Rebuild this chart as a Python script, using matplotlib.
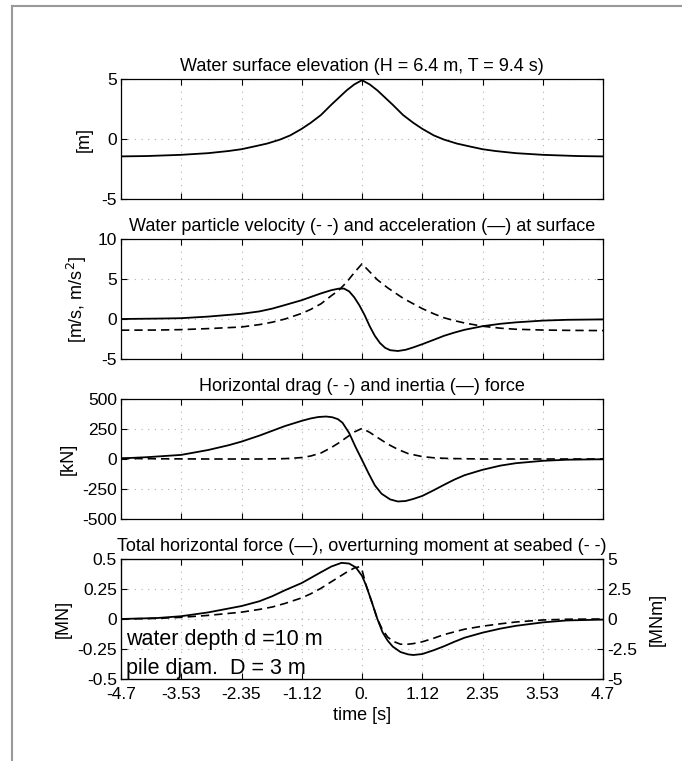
import numpy as np
import matplotlib.pyplot as plt
from matplotlib.lines import Line2D

plt.rcParams['font.family'] = ['Liberation Sans', 'DejaVu Sans']

# time axis ticks (T/8 steps, labels as printed)
xticks = [-4.7, -3.525, -2.35, -1.175, 0.0, 1.175, 2.35, 3.525, 4.7]
xticklabels = ['-4.7', '-3.53', '-2.35', '-1.12', '0.', '1.12', '2.35', '3.53', '4.7']

# surface elevation [m]
t_eta = [-4.7, -4.2, -3.53, -3.0, -2.6, -2.35, -2.1, -1.85, -1.6, -1.4, -1.175, -1.0,
         -0.8, -0.6, -0.45, -0.3, -0.15, 0.0,
         0.15, 0.3, 0.45, 0.6, 0.8, 1.0, 1.175, 1.4, 1.6, 1.85, 2.1, 2.35, 2.6, 3.0,
         3.53, 4.2, 4.7]
eta = [-1.45, -1.42, -1.32, -1.18, -1.0, -0.85, -0.62, -0.38, -0.05, 0.3, 0.85, 1.35,
       2.0, 2.85, 3.45, 4.05, 4.55, 4.9,
       4.55, 4.05, 3.45, 2.85, 2.0, 1.35, 0.85, 0.3, -0.05, -0.38, -0.62, -0.85, -1.0, -1.18,
       -1.32, -1.42, -1.45]

# surface velocity (dashed) [m/s]
t_u = [-4.7, -4.0, -3.53, -3.0, -2.35, -2.0, -1.75, -1.5, -1.175, -1.0, -0.8, -0.6,
       -0.45, -0.3, -0.15, 0.0, 0.15, 0.3, 0.5, 0.8, 1.0, 1.175, 1.4, 1.6,
       1.8, 2.0, 2.35, 2.7, 3.0, 3.53, 4.0, 4.7]
u = [-1.4, -1.38, -1.33, -1.2, -1.0, -0.7, -0.4, 0.0, 0.7, 1.2, 1.9, 2.9,
     3.6, 4.6, 5.8, 6.9, 5.9, 4.9, 3.9, 2.6, 1.9, 1.3, 0.65, 0.15,
     -0.2, -0.5, -0.9, -1.15, -1.28, -1.38, -1.42, -1.45]

# surface acceleration (solid) [m/s2]
t_a = [-4.7, -4.0, -3.53, -3.0, -2.35, -2.0, -1.75, -1.5, -1.175, -1.0, -0.8, -0.6,
       -0.45, -0.35, -0.25, -0.15, -0.05, 0.05, 0.15, 0.25, 0.35, 0.45, 0.55, 0.7,
       0.85, 1.0, 1.175, 1.4, 1.6, 1.8, 2.0, 2.35, 2.7, 3.0, 3.53, 4.0, 4.7]
a = [0.0, 0.05, 0.1, 0.3, 0.65, 0.95, 1.3, 1.75, 2.35, 2.75, 3.2, 3.6,
     3.8, 3.8, 3.45, 2.7, 1.7, 0.5, -0.9, -2.1, -3.0, -3.6, -3.9, -4.0,
     -3.85, -3.55, -3.15, -2.6, -2.1, -1.7, -1.35, -0.9, -0.6, -0.42, -0.2, -0.1, -0.05]

# inertia force (solid) [kN]
t_fi = [-4.7, -4.2, -3.53, -3.0, -2.6, -2.35, -2.0, -1.75, -1.5, -1.175, -1.0, -0.85,
        -0.7, -0.58, -0.47, -0.38, -0.25, -0.13, 0.0, 0.13, 0.25, 0.38, 0.55, 0.7,
        0.85, 1.0, 1.175, 1.4, 1.6, 1.8, 2.0, 2.35, 2.7, 3.0, 3.53, 4.0, 4.7]
f_inertia = [5, 15, 34, 75, 115, 145, 195, 235, 275, 318, 338, 350,
             354, 348, 332, 302, 216, 104, -8, -121, -219, -289, -337, -354,
             -350, -333, -308, -260, -215, -172, -135, -90, -55, -35, -15, -6, -2]

# drag force (dashed) [kN]
t_fd = [-4.7, -4.0, -3.0, -2.0, -1.5, -1.175, -1.0, -0.8, -0.6, -0.45, -0.3, -0.15,
        0.0, 0.15, 0.3, 0.5, 0.7, 0.9, 1.175, 1.4, 1.7, 2.35, 3.53, 4.7]
f_drag = [5, 2, 0, 0, 3, 12, 25, 50, 95, 135, 180, 225,
          255, 222, 180, 125, 80, 45, 20, 10, 4, 0, 0, 0]

# total force (solid) [MN]
t_ft = [-4.7, -4.0, -3.53, -3.0, -2.35, -2.0, -1.75, -1.5, -1.175, -1.0, -0.8, -0.6,
        -0.4, -0.25, -0.12, 0.0, 0.08, 0.2, 0.3, 0.4, 0.5, 0.6, 0.75, 0.9,
        1.0, 1.175, 1.4, 1.6, 1.8, 2.0, 2.35, 2.7, 3.0, 3.53, 4.0, 4.7]
f_total = [0.0, 0.008, 0.023, 0.055, 0.108, 0.148, 0.19, 0.24, 0.3, 0.342, 0.39, 0.437,
           0.468, 0.462, 0.43, 0.36, 0.28, 0.13, 0.0, -0.11, -0.18, -0.23, -0.275, -0.295,
           -0.3, -0.292, -0.26, -0.227, -0.19, -0.156, -0.114, -0.08, -0.057, -0.028, -0.012, -0.005]

# overturning moment (dashed) [MNm]
t_m = [-4.7, -4.0, -3.53, -3.0, -2.35, -2.0, -1.75, -1.5, -1.175, -1.0, -0.8, -0.6,
       -0.45, -0.3, -0.15, -0.05, 0.0, 0.08, 0.2, 0.3, 0.4, 0.5, 0.6, 0.75,
       0.9, 1.0, 1.175, 1.4, 1.6, 2.0, 2.35, 2.7, 3.0, 3.53, 4.0, 4.7]
moment = [0.0, 0.05, 0.14, 0.3, 0.57, 0.8, 1.0, 1.3, 1.76, 2.1, 2.56, 3.1,
          3.5, 3.9, 4.25, 4.35, 4.1, 2.8, 1.3, 0.0, -0.9, -1.5, -1.85, -2.1,
          -2.1, -2.05, -1.9, -1.6, -1.3, -0.85, -0.6, -0.4, -0.25, -0.08, -0.02, 0.0]

fs_title = 13
fs_tick = 12.5
fs_label = 13
dash = (0, (5, 3))

fig = plt.figure(figsize=(6.82, 7.61), dpi=100)
fig.add_artist(Line2D([12 / 682, 12 / 682], [0, 1 - 6 / 761], color='#999999', lw=1.5))
fig.add_artist(Line2D([12 / 682, 1], [1 - 6 / 761, 1 - 6 / 761], color='#999999', lw=1.5))

left, width, h = 121 / 682, 482 / 682, 120 / 761
tops = [79, 239, 399, 559]
axes = [fig.add_axes([left, 1 - (tp + 120) / 761, width, h]) for tp in tops]


def style(ax, yticks, ylabels):
    ax.set_xlim(-4.7, 4.7)
    ax.set_xticks(xticks)
    ax.set_yticks(yticks)
    ax.set_yticklabels(ylabels)
    ax.set_ylim(yticks[0], yticks[-1])
    ax.tick_params(direction='in', top=True, right=True, length=4, labelsize=fs_tick,
                   width=0.8, pad=3)
    ax.grid(True, color='#b0b0b0', linestyle=(0, (1, 5)), lw=0.8)
    for s in ax.spines.values():
        s.set_linewidth(0.9)


ax = axes[0]
ax.plot(t_eta, eta, color='k', lw=1.3)
style(ax, [-5, 0, 5], ['-5', '0', '5'])
ax.set_xticklabels([])
ax.set_ylabel('[m]', fontsize=fs_label, labelpad=6)
ax.set_title('Water surface elevation (H = 6.4 m, T = 9.4 s)', fontsize=fs_title, pad=6)

ax = axes[1]
ax.plot(t_u, u, color='k', lw=1.2, linestyle=dash)
ax.plot(t_a, a, color='k', lw=1.3)
style(ax, [-5, 0, 5, 10], ['-5', '0', '5', '10'])
ax.set_xticklabels([])
ax.set_ylabel('[m/s, m/s$^2$]', fontsize=fs_label, labelpad=6)
ax.set_title('Water particle velocity (- -) and acceleration (\u2014) at surface',
             fontsize=fs_title, pad=6)

ax = axes[2]
ax.plot(t_fd, f_drag, color='k', lw=1.2, linestyle=dash)
ax.plot(t_fi, f_inertia, color='k', lw=1.3)
style(ax, [-500, -250, 0, 250, 500], ['-500', '-250', '0', '250', '500'])
ax.set_xticklabels([])
ax.set_ylabel('[kN]', fontsize=fs_label, labelpad=4)
ax.set_title('Horizontal drag (- -) and inertia (\u2014) force', fontsize=fs_title, pad=6)

ax = axes[3]
ax.plot(t_ft, f_total, color='k', lw=1.3)
style(ax, [-0.5, -0.25, 0, 0.25, 0.5], ['-0.5', '-0.25', '0', '0.25', '0.5'])
ax.tick_params(right=False)
ax.tick_params(axis='x', pad=6)
ax.set_xticklabels(xticklabels)
ax.set_xlabel('time [s]', fontsize=fs_label, labelpad=3)
ax.set_ylabel('[MN]', fontsize=fs_label, labelpad=4)
ax.set_title('Total horizontal force (\u2014), overturning moment at seabed (- -)',
             fontsize=fs_title, pad=6)
ax.text(0.01, 0.325, 'water depth d =10 m', transform=ax.transAxes, fontsize=15.5, va='center')
ax.text(0.01, 0.09, 'pile djam.  D = 3 m', transform=ax.transAxes, fontsize=15.5, va='center')

ax2 = ax.twinx()
ax2.plot(t_m, moment, color='k', lw=1.2, linestyle=dash)
ax2.set_ylim(-5, 5)
ax2.set_yticks([-5, -2.5, 0, 2.5, 5])
ax2.set_yticklabels(['-5', '-2.5', '0', '2.5', '5'])
ax2.tick_params(direction='in', length=4, labelsize=fs_tick, width=0.8, pad=3)
ax2.set_ylabel('[MNm]', fontsize=fs_label, labelpad=8)

plt.savefig('out.png', dpi=100)
